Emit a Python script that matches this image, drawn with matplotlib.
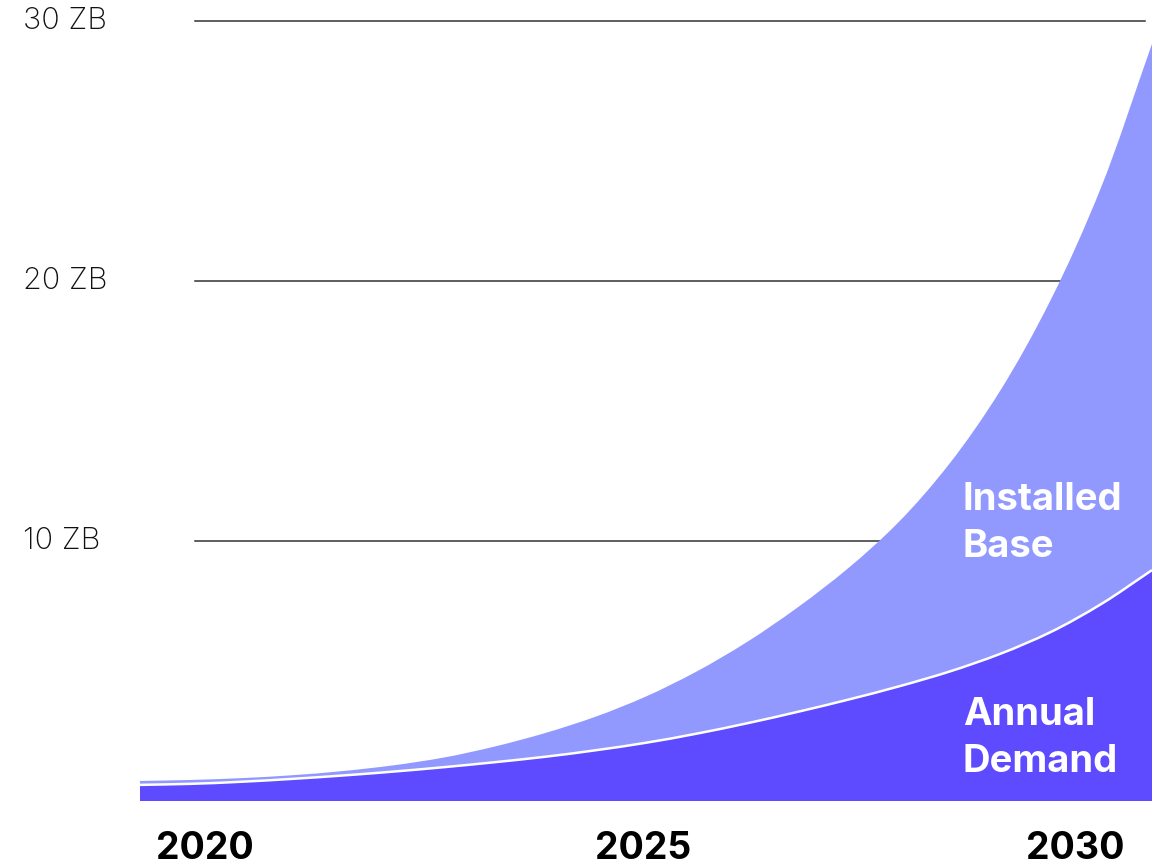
import matplotlib
matplotlib.use("Agg")
import matplotlib.pyplot as plt
import numpy as np
from matplotlib.path import Path
from matplotlib.patches import PathPatch
from matplotlib.transforms import blended_transform_factory

# data (zettabytes)
years = [2020.0, 2020.5, 2021.0, 2021.5, 2022.0, 2022.5, 2023.0, 2023.5, 2024.0, 2024.5,
         2025.0, 2025.5, 2026.0, 2026.5, 2027.0, 2027.5, 2028.0, 2028.5, 2029.0, 2029.5, 2030.0]
installed_base = [0.77, 0.81, 0.88, 0.99, 1.15, 1.37, 1.67, 2.09, 2.61, 3.24,
                  4.02, 4.98, 6.12, 7.45, 8.96, 10.74, 12.98, 15.78, 19.28, 23.63, 29.12]
annual_demand = [0.62, 0.66, 0.74, 0.85, 0.98, 1.13, 1.30, 1.49, 1.70, 1.95,
                 2.24, 2.59, 2.99, 3.43, 3.90, 4.41, 4.98, 5.66, 6.50, 7.58, 8.88]
grid_values = [10, 20, 30]
grid_labels = ["10 ZB", "20 ZB", "30 ZB"]
year_labels = ["2020", "2025", "2030"]

light = "#9199FF"
dark = "#5E4AFF"
FONT = ["Inter", "DejaVu Sans"]


def smooth_path(x, y, closed=False):
    # monotone cubic (Fritsch-Carlson) drawn as bezier segments
    x = np.asarray(x, float)
    y = np.asarray(y, float)
    h = np.diff(x)
    d = np.diff(y) / h
    m = np.zeros_like(y)
    m[0], m[-1] = d[0], d[-1]
    for i in range(1, len(y) - 1):
        if d[i - 1] * d[i] <= 0:
            m[i] = 0
        else:
            w1 = 2 * h[i] + h[i - 1]
            w2 = h[i] + 2 * h[i - 1]
            m[i] = (w1 + w2) / (w1 / d[i - 1] + w2 / d[i])
    verts = []
    codes = []
    if closed:
        verts.append((x[0], 0))
        codes.append(Path.MOVETO)
        verts.append((x[0], y[0]))
        codes.append(Path.LINETO)
    else:
        verts.append((x[0], y[0]))
        codes.append(Path.MOVETO)
    for i in range(len(x) - 1):
        verts += [(x[i] + h[i] / 3, y[i] + m[i] * h[i] / 3),
                  (x[i + 1] - h[i] / 3, y[i + 1] - m[i + 1] * h[i] / 3),
                  (x[i + 1], y[i + 1])]
        codes += [Path.CURVE4] * 3
    if closed:
        verts += [(x[-1], 0), (x[0], 0)]
        codes += [Path.LINETO, Path.CLOSEPOLY]
    return Path(verts, codes)


fig = plt.figure(figsize=(11.56, 8.65), dpi=100)
ax = fig.add_axes([140 / 1156, 64 / 865, 1012 / 1156, 806 / 865])
ax.set_xlim(2020, 2030)
ax.set_ylim(0, 31)
ax.axis("off")

# gridlines behind the areas
for v in grid_values:
    ax.axhline(v, xmin=0.054, xmax=0.993, color="#333333", lw=1.1, zorder=1)

ax.add_patch(PathPatch(smooth_path(years, installed_base, closed=True),
                       facecolor=light, lw=0, zorder=2))
ax.add_patch(PathPatch(smooth_path(years, annual_demand, closed=True),
                       facecolor=dark, lw=0, zorder=3))
ax.add_patch(PathPatch(smooth_path(years, annual_demand), facecolor="none",
                       edgecolor="white", lw=1.8, zorder=4, capstyle="butt"))

# y labels, left aligned near the figure edge
tr = blended_transform_factory(fig.transFigure, ax.transData)
for v, lab in zip(grid_values, grid_labels):
    ax.text(23 / 1156, v, lab, transform=tr, ha="left", va="center",
            fontsize=22, family=FONT, fontweight="light", color="#111111")

# year labels under the chart
year_x = [2020.64, 2024.97, 2029.24]
trx = blended_transform_factory(ax.transData, fig.transFigure)
for x, lab in zip(year_x, year_labels):
    ax.text(x, 6 / 865, lab, transform=trx, ha="center", va="baseline",
            fontsize=27, family=FONT, fontweight="bold", color="black")

ax.text(2028.13, 12.25, "Installed\nBase", ha="left", va="top", fontsize=27.5,
        family=FONT, fontweight="bold", color="white", linespacing=1.38, zorder=5)
ax.text(2028.13, 4.0, "Annual\nDemand", ha="left", va="top", fontsize=27.5,
        family=FONT, fontweight="bold", color="white", linespacing=1.38, zorder=5)

fig.savefig("out.png", dpi=100)
